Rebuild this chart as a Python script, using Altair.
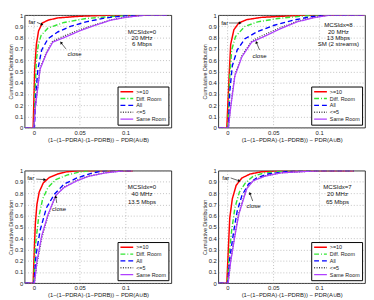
import math
import altair as alt
import pandas as pd

SERIES = [">=10", "Diff. Room", "All", "<=5", "Same Room"]
COLORS = ["#ff0000", "#33e633", "#0000ff", "#444444", "#b040ff"]
DASHES = [[1, 0], [5, 2, 1, 2], [5, 3], [1, 1.5], [1, 0]]
WIDTHS = [1.5, 1.3, 1.5, 0.8, 1.8]

Y_TICKS = [0, 0.1, 0.2, 0.3, 0.4, 0.5, 0.6, 0.7, 0.8, 0.9, 1]
X_TICKS = [0, 0.05, 0.1]
X_TITLE = "(1\u2212(1\u2212PDRA)\u00b7(1\u2212PDRB)) \u2212 PDR(A\u222aB)"
Y_TITLE = "Cumulative Distribution"
X_DOMAIN = [-0.01, 0.15]
W, H = 150, 115

# ---- Panel 1: MCSIdx=0, 20 MHz, 6 Mbps
P1_X = {
    ">=10": [-0.01, -0.0007, 0.001, 0.0028, 0.0052, 0.0093, 0.0155, 0.026, 0.05, 0.085, 0.145],
    "Diff. Room": [-0.01, 0.0003, 0.0014, 0.0028, 0.005, 0.008, 0.0155, 0.033, 0.057, 0.088, 0.11, 0.145],
    "All": [-0.01, 0.0007, 0.0024, 0.0045, 0.0086, 0.0155, 0.026, 0.04, 0.057, 0.078, 0.1, 0.12, 0.145],
    "<=5": [-0.01, 0.0, 0.0017, 0.0069, 0.0138, 0.0207, 0.033, 0.05, 0.067, 0.084, 0.1, 0.122, 0.145],
    "Same Room": [-0.01, 0.0, 0.0017, 0.0069, 0.0138, 0.0207, 0.033, 0.05, 0.067, 0.084, 0.1, 0.122, 0.145],
}
P1_Y = {
    ">=10": [0, 0, 0.52, 0.74, 0.86, 0.93, 0.955, 0.975, 0.99, 1, 1],
    "Diff. Room": [0, 0, 0.32, 0.6, 0.74, 0.82, 0.885, 0.935, 0.97, 0.99, 1, 1],
    "All": [0, 0, 0.32, 0.52, 0.69, 0.79, 0.85, 0.9, 0.94, 0.975, 0.995, 1, 1],
    "<=5": [0, 0, 0.19, 0.53, 0.67, 0.77, 0.815, 0.87, 0.915, 0.958, 0.982, 1, 1],
    "Same Room": [0, 0, 0.18, 0.52, 0.66, 0.76, 0.8, 0.86, 0.91, 0.955, 0.98, 1, 1],
}
P1_INFO = ["MCSIdx=0", "20 MHz", "6 Mbps"]
P1_INFO_X = 0.118
P1_INFO_Y = [0.852, 0.795, 0.739]
P1_FAR = [-0.002, 0.935, 0.0034, 0.935, 0.0086, 0.918]
P1_CLOSE = [0.0445, 0.653, 0.035, 0.70, 0.030, 0.752]

# ---- Panel 2: MCSIdx=8, 20 MHz, 13 Mbps, SM (2 streams)
P2_X = {
    ">=10": [-0.01, -0.0007, 0.0018, 0.0035, 0.007, 0.0123, 0.021, 0.037, 0.06, 0.086, 0.15],
    "Diff. Room": [-0.01, 0.0004, 0.0025, 0.0046, 0.0088, 0.019, 0.033, 0.055, 0.08, 0.095, 0.15],
    "All": [-0.01, 0.001, 0.0025, 0.0053, 0.0106, 0.019, 0.033, 0.051, 0.072, 0.09, 0.105, 0.15],
    "<=5": [-0.01, 0.001, 0.0035, 0.0081, 0.0158, 0.0264, 0.04, 0.058, 0.076, 0.093, 0.111, 0.15],
    "Same Room": [-0.01, 0.001, 0.0035, 0.0081, 0.0158, 0.0264, 0.04, 0.058, 0.076, 0.093, 0.111, 0.15],
}
P2_Y = {
    ">=10": [0, 0, 0.46, 0.74, 0.87, 0.93, 0.96, 0.98, 0.99, 1, 1],
    "Diff. Room": [0, 0, 0.46, 0.69, 0.81, 0.9, 0.94, 0.97, 0.99, 1, 1],
    "All": [0, 0, 0.32, 0.55, 0.69, 0.79, 0.855, 0.91, 0.955, 0.985, 1, 1],
    "<=5": [0, 0, 0.19, 0.47, 0.64, 0.77, 0.825, 0.89, 0.945, 0.978, 1, 1],
    "Same Room": [0, 0, 0.18, 0.46, 0.63, 0.76, 0.81, 0.88, 0.94, 0.975, 1, 1],
}
P2_INFO = ["MCSIdx=8", "20 MHz", "13 Mbps", "SM (2 streams)"]
P2_INFO_X = 0.121
P2_INFO_Y = [0.909, 0.852, 0.795, 0.739]
P2_FAR = [-0.003, 0.93, 0.0017, 0.93, 0.0135, 0.93]
P2_CLOSE = [0.035, 0.64, 0.035, 0.69, 0.0317, 0.755]

# ---- Panel 3: MCSIdx=0, 40 MHz, 13.5 Mbps
P3_X = {
    ">=10": [-0.01, -0.0007, 0.0007, 0.0017, 0.0034, 0.0059, 0.0103, 0.017, 0.026, 0.036, 0.05, 0.108],
    "Diff. Room": [-0.01, 0.0, 0.0017, 0.0052, 0.0097, 0.0155, 0.024, 0.036, 0.048, 0.06, 0.108],
    "All": [-0.01, 0.0003, 0.0024, 0.0069, 0.0138, 0.0224, 0.033, 0.047, 0.064, 0.078, 0.108],
    "<=5": [-0.01, 0.0007, 0.0034, 0.0086, 0.0155, 0.024, 0.033, 0.047, 0.06, 0.078, 0.1, 0.108],
    "Same Room": [-0.01, 0.0007, 0.0034, 0.0086, 0.0155, 0.024, 0.033, 0.047, 0.06, 0.078, 0.1, 0.108],
}
P3_Y = {
    ">=10": [0, 0, 0.33, 0.53, 0.7, 0.81, 0.89, 0.94, 0.97, 0.99, 1, 1],
    "Diff. Room": [0, 0, 0.33, 0.58, 0.75, 0.85, 0.92, 0.96, 0.985, 1, 1],
    "All": [0, 0, 0.25, 0.47, 0.67, 0.79, 0.88, 0.935, 0.98, 1, 1],
    "<=5": [0, 0, 0.17, 0.40, 0.60, 0.78, 0.855, 0.915, 0.953, 0.982, 1, 1],
    "Same Room": [0, 0, 0.19, 0.42, 0.61, 0.78, 0.85, 0.91, 0.95, 0.98, 1, 1],
}
P3_INFO = ["MCSIdx=0", "40 MHz", "13.5 Mbps"]
P3_INFO_X = 0.118
P3_INFO_Y = [0.854, 0.789, 0.725]
P3_FAR = [-0.0034, 0.93, 0.0026, 0.925, 0.0115, 0.92]
P3_CLOSE = [0.0276, 0.657, 0.025, 0.713, 0.024, 0.764]

# ---- Panel 4: MCSIdx=7, 20 MHz, 65 Mbps
P4_X = {
    ">=10": [-0.01, -0.0007, 0.0011, 0.0025, 0.0053, 0.0095, 0.0158, 0.0246, 0.037, 0.058, 0.138],
    "Diff. Room": [-0.01, 0.0, 0.0018, 0.0046, 0.0081, 0.013, 0.0194, 0.028, 0.04, 0.065, 0.138],
    "All": [-0.01, 0.0004, 0.0025, 0.007, 0.0106, 0.0158, 0.0229, 0.0317, 0.044, 0.072, 0.138],
    "<=5": [-0.01, 0.0007, 0.0035, 0.0081, 0.0123, 0.0176, 0.0211, 0.0282, 0.0405, 0.058, 0.08, 0.1, 0.138],
    "Same Room": [-0.01, 0.0007, 0.0035, 0.0081, 0.0123, 0.0176, 0.0211, 0.0282, 0.0405, 0.058, 0.08, 0.1, 0.138],
}
P4_Y = {
    ">=10": [0, 0, 0.33, 0.58, 0.75, 0.87, 0.935, 0.97, 0.99, 1, 1],
    "Diff. Room": [0, 0, 0.25, 0.47, 0.67, 0.81, 0.89, 0.95, 0.98, 1, 1],
    "All": [0, 0, 0.22, 0.47, 0.64, 0.78, 0.88, 0.935, 0.97, 1, 1],
    "<=5": [0, 0, 0.2, 0.43, 0.62, 0.76, 0.845, 0.912, 0.952, 0.981, 0.99, 1, 1],
    "Same Room": [0, 0, 0.19, 0.42, 0.61, 0.75, 0.84, 0.91, 0.95, 0.98, 0.99, 1, 1],
}
P4_INFO = ["MCSIdx=7", "20 MHz", "65 Mbps"]
P4_INFO_X = 0.12
P4_INFO_Y = [0.854, 0.789, 0.725]
P4_FAR = [-0.0018, 0.935, 0.0035, 0.935, 0.0125, 0.91]
P4_CLOSE = [0.0285, 0.688, 0.0275, 0.73, 0.0246, 0.795]

FONT = "Liberation Sans"
PX_PER_X = W / (X_DOMAIN[1] - X_DOMAIN[0])


def make_panel(xs, ys, info, info_x, info_y, far, close):
    rows = []
    for s in SERIES:
        for i, (x, y) in enumerate(zip(xs[s], ys[s])):
            rows.append({"series": s, "x": x, "y": y, "i": i})
    df = pd.DataFrame(rows)

    xsc = alt.Scale(domain=X_DOMAIN, nice=False, zero=False)
    ysc = alt.Scale(domain=[0, 1], nice=False, zero=False)
    xax = alt.Axis(values=X_TICKS, format="~g", title=X_TITLE, labelOverlap=False,
                   grid=True, ticks=False, domain=False)
    yax = alt.Axis(values=Y_TICKS, format="~g", title=Y_TITLE, labelOverlap=False,
                   grid=True, ticks=False, domain=False, labelFlush=False)

    def X(f):
        return alt.X(f, scale=xsc, axis=xax, title=X_TITLE)

    def Y(f):
        return alt.Y(f, scale=ysc, axis=yax, title=Y_TITLE)

    leg = alt.Legend(title=None, orient="bottom-right", offset=3, padding=2,
                     fillColor="white", strokeColor="black", labelFontSize=5.5,
                     labelFont=FONT, symbolType="stroke", symbolSize=170,
                     clipHeight=6.6, rowPadding=0, labelOffset=2, labelColor="#222")

    lines = alt.Chart(df).mark_line(strokeJoin="round", clip=True).encode(
        x=X("x:Q"), y=Y("y:Q"),
        color=alt.Color("series:N", scale=alt.Scale(domain=SERIES, range=COLORS), legend=leg),
        strokeDash=alt.StrokeDash("series:N", scale=alt.Scale(domain=SERIES, range=DASHES), legend=leg),
        strokeWidth=alt.StrokeWidth("series:N", scale=alt.Scale(domain=SERIES, range=WIDTHS), legend=leg),
        order="i:Q",
    )

    info_df = pd.DataFrame({"x": [info_x] * len(info), "y": info_y, "t": info})
    info_t = alt.Chart(info_df).mark_text(fontSize=6.2, font=FONT, color="#111",
                                          align="center", baseline="middle").encode(
        x=X("x:Q"), y=Y("y:Q"), text="t:N")

    ann_df = pd.DataFrame({"x": [far[0], close[0]], "y": [far[1], close[1]], "t": ["far", "close"]})
    ann_t = alt.Chart(ann_df).mark_text(fontSize=6.2, font=FONT, color="#111",
                                        align="center", baseline="middle").encode(
        x=X("x:Q"), y=Y("y:Q"), text="t:N")

    arr = []
    for a in (far, close):
        x1, y1, x2, y2 = a[2], a[3], a[4], a[5]
        ang = math.degrees(math.atan2((x2 - x1) * PX_PER_X, (y2 - y1) * H)) % 360
        arr.append({"x1": x1, "y1": y1, "x2": x2, "y2": y2, "ang": ang})
    arr_df = pd.DataFrame(arr)
    shafts = alt.Chart(arr_df).mark_rule(color="black", strokeWidth=0.6).encode(
        x=X("x1:Q"), y=Y("y1:Q"), x2="x2:Q", y2="y2:Q")
    heads = alt.Chart(arr_df).mark_point(shape="triangle", filled=True, color="black",
                                         size=10, opacity=1).encode(
        x=X("x2:Q"), y=Y("y2:Q"),
        angle=alt.Angle("ang:Q", scale=None))

    return alt.layer(lines, info_t, ann_t, shafts, heads).properties(width=W, height=H)


p1 = make_panel(P1_X, P1_Y, P1_INFO, P1_INFO_X, P1_INFO_Y, P1_FAR, P1_CLOSE)
p2 = make_panel(P2_X, P2_Y, P2_INFO, P2_INFO_X, P2_INFO_Y, P2_FAR, P2_CLOSE)
p3 = make_panel(P3_X, P3_Y, P3_INFO, P3_INFO_X, P3_INFO_Y, P3_FAR, P3_CLOSE)
p4 = make_panel(P4_X, P4_Y, P4_INFO, P4_INFO_X, P4_INFO_Y, P4_FAR, P4_CLOSE)

indep = dict(color="independent", strokeDash="independent", strokeWidth="independent")
row1 = alt.hconcat(p1, p2, spacing=30).resolve_scale(**indep)
row2 = alt.hconcat(p3, p4, spacing=30).resolve_scale(**indep)
chart = alt.vconcat(row1, row2, spacing=24).resolve_scale(**indep).properties(padding=0)

chart = chart.configure_view(stroke="black", strokeWidth=0.8).configure_axis(
    gridColor="#999", gridDash=[1, 2], gridWidth=0.6,
    labelFont=FONT, titleFont=FONT, labelFontSize=6, titleFontSize=6,
    labelColor="#222", titleColor="#222", titleFontWeight="normal",
    labelPadding=2, titlePadding=1,
).configure_axisY(titleFontSize=5.5)

chart.save("out.html", embed_options={"renderer": "svg", "actions": False})
